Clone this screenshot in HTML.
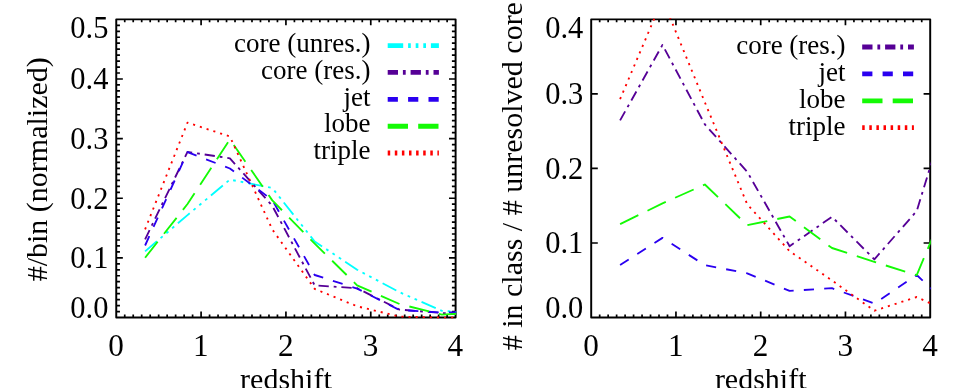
<!DOCTYPE html>
<html><head><meta charset="utf-8"><title>redshift distributions</title>
<style>html,body{margin:0;padding:0;background:#fff}body{width:969px;height:388px;overflow:hidden}svg{display:block;will-change:transform}svg text{font-family:"Liberation Serif",serif}</style>
</head><body>
<svg width="969" height="388" viewBox="0 0 969 388" font-size="30" fill="#000">
<defs>
<clipPath id="cl"><rect x="116.25" y="18.35" width="339.95" height="300.15"/></clipPath>
<clipPath id="cr"><rect x="591.2" y="18.35" width="339.6" height="300.2"/></clipPath>
</defs>
<rect width="969" height="388" fill="#fff"/>
<path d="M124.73 317.5v-3M124.73 19.35v3M133.22 317.5v-3M133.22 19.35v3M141.7 317.5v-3M141.7 19.35v3M150.19 317.5v-3M150.19 19.35v3M158.67 317.5v-3M158.67 19.35v3M167.15 317.5v-3M167.15 19.35v3M175.64 317.5v-3M175.64 19.35v3M184.12 317.5v-3M184.12 19.35v3M192.6 317.5v-3M192.6 19.35v3M201.09 317.5v-6M201.09 19.35v6M209.57 317.5v-3M209.57 19.35v3M218.06 317.5v-3M218.06 19.35v3M226.54 317.5v-3M226.54 19.35v3M235.02 317.5v-3M235.02 19.35v3M243.51 317.5v-3M243.51 19.35v3M251.99 317.5v-3M251.99 19.35v3M260.47 317.5v-3M260.47 19.35v3M268.96 317.5v-3M268.96 19.35v3M277.44 317.5v-3M277.44 19.35v3M285.93 317.5v-6M285.93 19.35v6M294.41 317.5v-3M294.41 19.35v3M302.89 317.5v-3M302.89 19.35v3M311.38 317.5v-3M311.38 19.35v3M319.86 317.5v-3M319.86 19.35v3M328.34 317.5v-3M328.34 19.35v3M336.83 317.5v-3M336.83 19.35v3M345.31 317.5v-3M345.31 19.35v3M353.8 317.5v-3M353.8 19.35v3M362.28 317.5v-3M362.28 19.35v3M370.76 317.5v-6M370.76 19.35v6M379.25 317.5v-3M379.25 19.35v3M387.73 317.5v-3M387.73 19.35v3M396.21 317.5v-3M396.21 19.35v3M404.7 317.5v-3M404.7 19.35v3M413.18 317.5v-3M413.18 19.35v3M421.67 317.5v-3M421.67 19.35v3M430.15 317.5v-3M430.15 19.35v3M438.63 317.5v-3M438.63 19.35v3M447.12 317.5v-3M447.12 19.35v3M116.25 311.54h3.7M455.6 311.54h-3.7M116.25 305.57h3.7M455.6 305.57h-3.7M116.25 299.61h3.7M455.6 299.61h-3.7M116.25 293.65h3.7M455.6 293.65h-3.7M116.25 287.69h3.7M455.6 287.69h-3.7M116.25 281.72h3.7M455.6 281.72h-3.7M116.25 275.76h3.7M455.6 275.76h-3.7M116.25 269.8h3.7M455.6 269.8h-3.7M116.25 263.83h3.7M455.6 263.83h-3.7M116.25 257.87h6.6M455.6 257.87h-6.6M116.25 251.91h3.7M455.6 251.91h-3.7M116.25 245.94h3.7M455.6 245.94h-3.7M116.25 239.98h3.7M455.6 239.98h-3.7M116.25 234.02h3.7M455.6 234.02h-3.7M116.25 228.06h3.7M455.6 228.06h-3.7M116.25 222.09h3.7M455.6 222.09h-3.7M116.25 216.13h3.7M455.6 216.13h-3.7M116.25 210.17h3.7M455.6 210.17h-3.7M116.25 204.2h3.7M455.6 204.2h-3.7M116.25 198.24h6.6M455.6 198.24h-6.6M116.25 192.28h3.7M455.6 192.28h-3.7M116.25 186.31h3.7M455.6 186.31h-3.7M116.25 180.35h3.7M455.6 180.35h-3.7M116.25 174.39h3.7M455.6 174.39h-3.7M116.25 168.43h3.7M455.6 168.43h-3.7M116.25 162.46h3.7M455.6 162.46h-3.7M116.25 156.5h3.7M455.6 156.5h-3.7M116.25 150.54h3.7M455.6 150.54h-3.7M116.25 144.57h3.7M455.6 144.57h-3.7M116.25 138.61h6.6M455.6 138.61h-6.6M116.25 132.65h3.7M455.6 132.65h-3.7M116.25 126.68h3.7M455.6 126.68h-3.7M116.25 120.72h3.7M455.6 120.72h-3.7M116.25 114.76h3.7M455.6 114.76h-3.7M116.25 108.79h3.7M455.6 108.79h-3.7M116.25 102.83h3.7M455.6 102.83h-3.7M116.25 96.87h3.7M455.6 96.87h-3.7M116.25 90.91h3.7M455.6 90.91h-3.7M116.25 84.94h3.7M455.6 84.94h-3.7M116.25 78.98h6.6M455.6 78.98h-6.6M116.25 73.02h3.7M455.6 73.02h-3.7M116.25 67.05h3.7M455.6 67.05h-3.7M116.25 61.09h3.7M455.6 61.09h-3.7M116.25 55.13h3.7M455.6 55.13h-3.7M116.25 49.17h3.7M455.6 49.17h-3.7M116.25 43.2h3.7M455.6 43.2h-3.7M116.25 37.24h3.7M455.6 37.24h-3.7M116.25 31.28h3.7M455.6 31.28h-3.7M116.25 25.31h3.7M455.6 25.31h-3.7" stroke="#000" stroke-width="1.7" fill="none"/>
<rect x="116.25" y="19.35" width="339.35" height="298.15" fill="none" stroke="#000" stroke-width="1.95" stroke-linejoin="round"/>
<path d="M599.68 317.55v-3M599.68 19.35v3M608.15 317.55v-3M608.15 19.35v3M616.62 317.55v-3M616.62 19.35v3M625.1 317.55v-3M625.1 19.35v3M633.58 317.55v-3M633.58 19.35v3M642.05 317.55v-3M642.05 19.35v3M650.53 317.55v-3M650.53 19.35v3M659 317.55v-3M659 19.35v3M667.48 317.55v-3M667.48 19.35v3M675.95 317.55v-6M675.95 19.35v6M684.43 317.55v-3M684.43 19.35v3M692.9 317.55v-3M692.9 19.35v3M701.38 317.55v-3M701.38 19.35v3M709.85 317.55v-3M709.85 19.35v3M718.33 317.55v-3M718.33 19.35v3M726.8 317.55v-3M726.8 19.35v3M735.28 317.55v-3M735.28 19.35v3M743.75 317.55v-3M743.75 19.35v3M752.23 317.55v-3M752.23 19.35v3M760.7 317.55v-6M760.7 19.35v6M769.18 317.55v-3M769.18 19.35v3M777.65 317.55v-3M777.65 19.35v3M786.12 317.55v-3M786.12 19.35v3M794.6 317.55v-3M794.6 19.35v3M803.08 317.55v-3M803.08 19.35v3M811.55 317.55v-3M811.55 19.35v3M820.03 317.55v-3M820.03 19.35v3M828.5 317.55v-3M828.5 19.35v3M836.98 317.55v-3M836.98 19.35v3M845.45 317.55v-6M845.45 19.35v6M853.93 317.55v-3M853.93 19.35v3M862.4 317.55v-3M862.4 19.35v3M870.88 317.55v-3M870.88 19.35v3M879.35 317.55v-3M879.35 19.35v3M887.83 317.55v-3M887.83 19.35v3M896.3 317.55v-3M896.3 19.35v3M904.78 317.55v-3M904.78 19.35v3M913.25 317.55v-3M913.25 19.35v3M921.73 317.55v-3M921.73 19.35v3M591.2 243h6.6M930.2 243h-6.6M591.2 168.45h6.6M930.2 168.45h-6.6M591.2 93.9h6.6M930.2 93.9h-6.6" stroke="#000" stroke-width="1.7" fill="none"/>
<rect x="591.2" y="19.35" width="339" height="298.2" fill="none" stroke="#000" stroke-width="1.95" stroke-linejoin="round"/>
<text transform="translate(116.05 356.1) scale(1.04 1.085)" text-anchor="middle">0</text>
<text transform="translate(200.89 356.1) scale(1.04 1.085)" text-anchor="middle">1</text>
<text transform="translate(285.73 356.1) scale(1.04 1.085)" text-anchor="middle">2</text>
<text transform="translate(370.56 356.1) scale(1.04 1.085)" text-anchor="middle">3</text>
<text transform="translate(455.4 356.1) scale(1.04 1.085)" text-anchor="middle">4</text>
<text transform="translate(108.35 318.2) scale(1.015 1.08)" text-anchor="end">0.0</text>
<text transform="translate(108.35 268.27) scale(1.015 1.08)" text-anchor="end">0.1</text>
<text transform="translate(108.35 208.64) scale(1.015 1.08)" text-anchor="end">0.2</text>
<text transform="translate(108.35 149.01) scale(1.015 1.08)" text-anchor="end">0.3</text>
<text transform="translate(108.35 89.38) scale(1.015 1.08)" text-anchor="end">0.4</text>
<text transform="translate(108.35 37.55) scale(1.015 1.08)" text-anchor="end">0.5</text>
<text transform="translate(591 356.1) scale(1.04 1.085)" text-anchor="middle">0</text>
<text transform="translate(675.75 356.1) scale(1.04 1.085)" text-anchor="middle">1</text>
<text transform="translate(760.5 356.1) scale(1.04 1.085)" text-anchor="middle">2</text>
<text transform="translate(845.25 356.1) scale(1.04 1.085)" text-anchor="middle">3</text>
<text transform="translate(930 356.1) scale(1.04 1.085)" text-anchor="middle">4</text>
<text transform="translate(583.3 318.25) scale(1.015 1.08)" text-anchor="end">0.0</text>
<text transform="translate(583.3 253.4) scale(1.015 1.08)" text-anchor="end">0.1</text>
<text transform="translate(583.3 178.85) scale(1.015 1.08)" text-anchor="end">0.2</text>
<text transform="translate(583.3 104.3) scale(1.015 1.08)" text-anchor="end">0.3</text>
<text transform="translate(583.3 37.55) scale(1.015 1.08)" text-anchor="end">0.4</text>
<text x="285.9" y="388.6" text-anchor="middle">redshift</text>
<text x="760.7" y="388.6" text-anchor="middle">redshift</text>
<text transform="translate(47 281.3) rotate(-90)">#/bin (normalized)</text>
<text transform="translate(522 350.3) rotate(-90)"># in class / # unresolved core</text>
<polyline points="145.1,251.4 187.5,215.1 229.9,179.6 272.3,188 314.7,241.5 357.1,269.7 399.5,292.2 441.9,310.8 484.3,314" stroke="#00ffff" stroke-width="1.85" stroke-dasharray="15.5 4.9 2.7 4.9 2.7 4.9 2.7 4.9" fill="none" stroke-linejoin="round" clip-path="url(#cl)"/>
<polyline points="145.1,239.3 187.5,151.9 229.9,158.3 272.3,205.9 314.7,285.4 357.1,288.2 399.5,309.6 441.9,313 484.3,316" stroke="#560096" stroke-width="1.85" stroke-dasharray="10.3 4.9 2.8 4.9" fill="none" stroke-linejoin="round" clip-path="url(#cl)"/>
<polyline points="145.1,245.5 187.5,152.2 229.9,168.5 272.3,200 314.7,275 357.1,288.6 399.5,310 441.9,312.6 484.3,311.5" stroke="#2a00f0" stroke-width="1.85" stroke-dasharray="10.2 10.2" fill="none" stroke-linejoin="round" clip-path="url(#cl)"/>
<polyline points="145.1,257.7 187.5,204 229.9,139.4 272.3,200.4 314.7,243.6 357.1,285.3 399.5,304 441.9,314.7 484.3,312" stroke="#14fa05" stroke-width="1.85" stroke-dasharray="20.3 10.2" fill="none" stroke-linejoin="round" clip-path="url(#cl)"/>
<polyline points="145.1,229.3 187.5,122.6 229.9,136.5 272.3,229.5 314.7,288.9 357.1,306.3 399.5,316.6 441.9,317.6 484.3,317.6" stroke="#ff0000" stroke-width="1.85" stroke-dasharray="2.1 5.0" fill="none" stroke-linejoin="round" clip-path="url(#cl)"/>
<polyline points="620.1,120.4 662.48,44.9 704.85,124.4 747.23,171.8 789.6,246.2 831.98,216.8 874.35,259.4 916.73,211 959.1,72.6" stroke="#560096" stroke-width="1.85" stroke-dasharray="10.3 4.9 2.8 4.9" fill="none" stroke-linejoin="round" clip-path="url(#cr)"/>
<polyline points="620.1,265 662.48,237.9 704.85,265.2 747.23,273.3 789.6,290.9 831.98,288.2 874.35,303.6 916.73,275 959.1,315" stroke="#2a00f0" stroke-width="1.85" stroke-dasharray="10.2 10.2" fill="none" stroke-linejoin="round" clip-path="url(#cr)"/>
<polyline points="620.1,224.1 662.48,203.4 704.85,184.5 747.23,225.2 789.6,216.5 831.98,248 874.35,261.9 916.73,275.2 959.1,174" stroke="#14fa05" stroke-width="1.85" stroke-dasharray="20.3 10.2" fill="none" stroke-linejoin="round" clip-path="url(#cr)"/>
<polyline points="620.1,99.1 662.48,-0.7 704.85,102.3 747.23,204.3 789.6,251.2 831.98,280.4 874.35,310.7 916.73,297 959.1,316.8" stroke="#ff0000" stroke-width="1.85" stroke-dasharray="2.1 5.0" fill="none" stroke-linejoin="round" clip-path="url(#cr)"/>
<text x="370.5" y="51.7" text-anchor="end" font-size="27">core (unres.)</text>
<path d="M387.7 45.6H438.9" stroke="#00ffff" stroke-width="4.8" stroke-dasharray="15.5 4.9 2.7 4.9 2.7 4.9 2.7 4.9" fill="none"/>
<text x="370.5" y="78.55" text-anchor="end" font-size="27">core (res.)</text>
<path d="M387.7 72.45H438.9" stroke="#560096" stroke-width="4.8" stroke-dasharray="10.3 4.9 2.8 4.9" fill="none"/>
<text x="370.5" y="105.5" text-anchor="end" font-size="27">jet</text>
<path d="M387.7 99.4H438.9" stroke="#2a00f0" stroke-width="4.8" stroke-dasharray="10.2 10.2" fill="none"/>
<text x="370.5" y="132.35" text-anchor="end" font-size="27">lobe</text>
<path d="M387.7 126.25H438.9" stroke="#14fa05" stroke-width="4.8" stroke-dasharray="20.3 10.2" fill="none"/>
<text x="370.5" y="159.1" text-anchor="end" font-size="27">triple</text>
<path d="M387.7 153H438.9" stroke="#ff0000" stroke-width="4.8" stroke-dasharray="2.5 4.6" fill="none"/>
<text x="845.6" y="54.2" text-anchor="end" font-size="27">core (res.)</text>
<path d="M862.2 47H913.9" stroke="#560096" stroke-width="4.8" stroke-dasharray="10.3 4.9 2.8 4.9" fill="none"/>
<text x="845.6" y="81.1" text-anchor="end" font-size="27">jet</text>
<path d="M862.2 73.9H913.9" stroke="#2a00f0" stroke-width="4.8" stroke-dasharray="10.2 10.2" fill="none"/>
<text x="845.6" y="108" text-anchor="end" font-size="27">lobe</text>
<path d="M862.2 100.8H913.9" stroke="#14fa05" stroke-width="4.8" stroke-dasharray="20.3 10.2" fill="none"/>
<text x="845.6" y="134.9" text-anchor="end" font-size="27">triple</text>
<path d="M862.2 127.7H913.9" stroke="#ff0000" stroke-width="4.8" stroke-dasharray="2.5 4.6" fill="none"/>
</svg>
</body></html>
